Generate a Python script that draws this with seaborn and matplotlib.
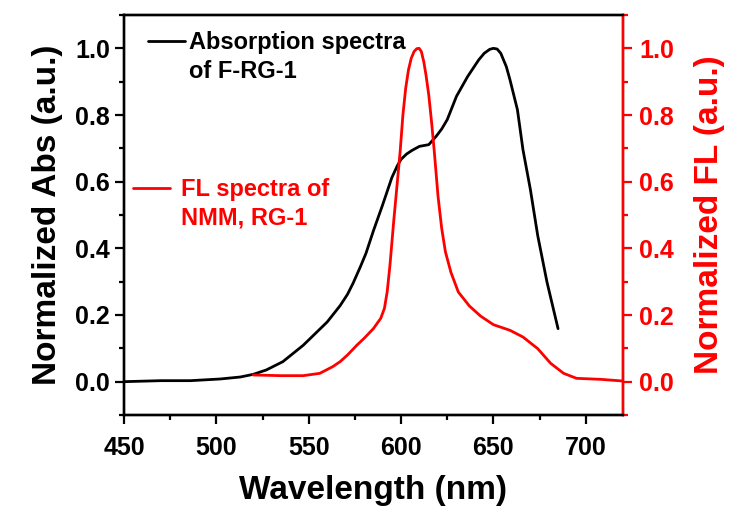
import matplotlib
matplotlib.use("Agg")
import matplotlib.pyplot as plt
from matplotlib.ticker import MultipleLocator, FixedLocator
import seaborn as sns
import pandas as pd

# ---- data ----
abs_nm = [450, 470, 486, 502, 513, 520, 527, 536, 547, 560, 567, 571, 574, 578, 581,
          585, 590, 595, 598, 600, 603, 606, 610, 615, 619, 622, 625, 630, 636, 642,
          645, 648, 650, 652, 654, 657, 659, 663, 666, 670, 674, 679, 685]
abs_val = [0.0, 0.003, 0.003, 0.008, 0.014, 0.022, 0.035, 0.06, 0.109, 0.179, 0.228,
           0.262, 0.295, 0.345, 0.385, 0.452, 0.53, 0.612, 0.648, 0.667, 0.683, 0.694,
           0.706, 0.711, 0.736, 0.758, 0.786, 0.856, 0.915, 0.965, 0.985, 0.997, 1.0,
           0.998, 0.985, 0.945, 0.905, 0.816, 0.696, 0.577, 0.438, 0.299, 0.159]

fl_nm = [520, 535, 547, 556, 563, 567, 571, 576, 580, 585, 589, 591, 592.5, 594, 596,
         598, 599.5, 601, 602.5, 604, 605.5, 607, 608.5, 609.8, 611, 612.3, 613.5, 615,
         616.5, 618, 620, 622, 624, 627, 631, 637, 643, 650, 659, 666, 674, 681, 688,
         695, 708, 720]
fl_val = [0.02, 0.018, 0.018, 0.025, 0.045, 0.06, 0.08, 0.109, 0.13, 0.159, 0.19,
          0.22, 0.27, 0.35, 0.48, 0.60, 0.69, 0.80, 0.88, 0.935, 0.97, 0.99, 0.999, 1.0,
          0.99, 0.96, 0.92, 0.86, 0.78, 0.69, 0.557, 0.46, 0.39, 0.328, 0.269, 0.227,
          0.197, 0.171, 0.154, 0.134, 0.099, 0.055, 0.025, 0.010, 0.007, 0.002]

x_ticks = [450, 500, 550, 600, 650, 700]
y_ticks = [0.0, 0.2, 0.4, 0.6, 0.8, 1.0]
abs_label = ["Absorption spectra", "of F-RG-1"]
fl_label = ["FL spectra of", "NMM, RG-1"]

abs_df = pd.DataFrame({"nm": abs_nm, "v": abs_val})
fl_df = pd.DataFrame({"nm": fl_nm, "v": fl_val})

sns.set_style("ticks")
plt.rcParams["font.family"] = ["Liberation Sans", "DejaVu Sans"]
plt.rcParams["font.weight"] = "bold"
plt.rcParams["text.color"] = "black"
plt.rcParams["axes.labelcolor"] = "black"
plt.rcParams["xtick.color"] = "black"
plt.rcParams["ytick.color"] = "black"
plt.rcParams["axes.edgecolor"] = "black"

RED = "#ff0000"
fig = plt.figure(figsize=(7.34, 5.09), dpi=100)
ax = fig.add_axes([124 / 734, 94 / 509, 498.7 / 734, 400 / 509])
ax2 = ax.twinx()

sns.lineplot(data=abs_df, x="nm", y="v", ax=ax, color="black", linewidth=2.0,
             sort=False, legend=False)
sns.lineplot(data=fl_df, x="nm", y="v", ax=ax2, color=RED, linewidth=2.0,
             sort=False, legend=False)

ax.set_xlim(450, 720)
ax.set_ylim(-0.1, 1.1)
ax2.set_ylim(-0.1, 1.1)

ax.xaxis.set_major_locator(FixedLocator(x_ticks))
ax.xaxis.set_minor_locator(MultipleLocator(25))
for a in (ax, ax2):
    a.yaxis.set_major_locator(FixedLocator(y_ticks))
    a.yaxis.set_minor_locator(MultipleLocator(0.1))

ax.set_xticklabels([str(t) for t in x_ticks])
ax.set_yticklabels([f"{t:.1f}" for t in y_ticks])
ax2.set_yticklabels([f"{t:.1f}" for t in y_ticks])

for s in list(ax.spines.values()) + list(ax2.spines.values()):
    s.set_linewidth(1.7)
    s.set_color("black")
ax2.spines["right"].set_color(RED)

ax.tick_params(axis="x", which="major", direction="out", length=6.7, width=1.6,
               labelsize=18, pad=8.5, top=False, colors="black")
ax.tick_params(axis="x", which="minor", direction="out", length=3.6, width=1.6, top=False,
               colors="black")
ax.tick_params(axis="y", which="major", direction="out", length=6.5, width=1.6,
               labelsize=18, pad=3.5, right=False, colors="black")
ax.tick_params(axis="y", which="minor", direction="out", length=3.6, width=1.6, right=False,
               colors="black")
ax2.tick_params(axis="y", which="major", direction="out", length=6.5, width=1.6,
                labelsize=18, pad=5.5, colors=RED)
ax2.tick_params(axis="y", which="minor", direction="out", length=3.6, width=1.6, colors=RED)

for lab in ax.get_xticklabels() + ax.get_yticklabels():
    lab.set_fontweight("bold")
for lab in ax2.get_yticklabels():
    lab.set_fontweight("bold")

ax.set_xlabel("Wavelength (nm)", fontsize=24, fontweight="bold", labelpad=11, color="black")
ax.set_ylabel("Normalized Abs (a.u.)", fontsize=24, fontweight="bold", labelpad=9,
              color="black")
ax2.set_ylabel("Normalized FL (a.u.)", fontsize=24, fontweight="bold", labelpad=14,
               color=RED)

# legends
h_abs = ax.get_lines()[0]
h_fl = ax2.get_lines()[0]
leg1 = ax2.legend([h_abs], [abs_label[0]], loc="upper left", bbox_to_anchor=(0.048, 0.96),
                  frameon=False, borderpad=0, borderaxespad=0, handlelength=1.57,
                  handletextpad=0.17, prop={"size": 17, "weight": "bold"})
for t in leg1.get_texts():
    t.set_color("black")
ax2.add_artist(leg1)
leg2 = ax2.legend([h_fl], [fl_label[0]], loc="upper left", bbox_to_anchor=(0.018, 0.5925),
                  frameon=False, borderpad=0, borderaxespad=0, handlelength=1.57,
                  handletextpad=0.47, prop={"size": 17, "weight": "bold"})
for t in leg2.get_texts():
    t.set_color(RED)

ax2.annotate(abs_label[1], xy=(0, 0), xycoords=leg1.get_texts()[0],
             xytext=(0, -23.5), textcoords="offset pixels", ha="left", va="baseline",
             fontsize=17, fontweight="bold", color="black", zorder=10)
ax2.annotate(fl_label[1], xy=(0, 0), xycoords=leg2.get_texts()[0],
             xytext=(0, -23.5), textcoords="offset pixels", ha="left", va="baseline",
             fontsize=17, fontweight="bold", color=RED, zorder=10)

fig.savefig("out.png", dpi=100)
